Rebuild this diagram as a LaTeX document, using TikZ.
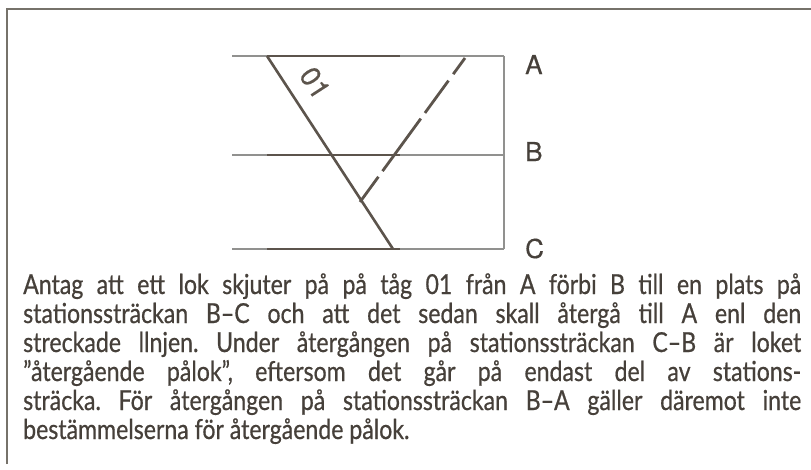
\documentclass[tikz,border=0pt]{standalone}
\usepackage{fontspec}
\setmainfont{Lato}[FakeStretch=0.84,FakeBold=0.6]
\newfontfamily\labfont{TeX Gyre Heros}[FakeBold=0.4]
\frenchspacing
\definecolor{framec}{RGB}{118,114,106}
\definecolor{darkc}{RGB}{92,84,76}
\definecolor{grayc}{RGB}{145,145,143}
\definecolor{textc}{RGB}{70,64,58}
\tikzset{
  frameline/.style={draw=framec, line width=2.6pt},
  grayline/.style={draw=grayc, line width=2.6pt},
  darkline/.style={draw=darkc, line width=2.4pt},
  diagline/.style={draw=darkc, line width=2.6pt},
  vline/.style={draw=grayc, line width=1.6pt},
  dashline/.style={draw=darkc, line width=2.8pt, dash pattern=on 20pt off 8pt on 40pt off 7pt on 65pt off 7pt on 40pt off 10pt},
  stlabel/.style={anchor=base west, inner sep=0, text=textc, font=\labfont\fontsize{26}{27}\selectfont},
  txtline/.style={anchor=base west, inner sep=0, text=textc, font=\fontsize{27.5}{29}\selectfont}
}
\begin{document}
\begin{tikzpicture}[x=1pt,y=-1pt]
\useasboundingbox (0,0) rectangle (811,469);
\fill[white] (0,0) rectangle (811,469);
% frame
\coordinate (fTL) at (7,9);
\coordinate (fTR) at (811,9);
\coordinate (fBL) at (7,464);
\draw[frameline] (fBL) -- (fTL) -- (fTR);
% station lines
\foreach \n/\y in {A/56,B/155,C/249}{
  \coordinate (\n0) at (232,\y);
  \coordinate (\n1) at (267,\y);
  \coordinate (\n2) at (400,\y);
  \coordinate (\n3) at (504,\y);
}
\foreach \n in {A,B,C}{
  \draw[grayline] (\n0) -- (\n3);
  \draw[darkline] (\n1) -- (\n2);
}
\draw[vline] (A3) -- (C3);
% train 01
\coordinate (s1) at (267,56);
\coordinate (s2) at (393,249);
\draw[diagline] (s1) -- (s2);
\node[inner sep=0, text=darkc, font=\labfont\fontsize{28}{29}\selectfont, rotate=-57] (n01) at (315,83) {01};
% dashed return
\coordinate (d1) at (465,58);
\coordinate (d2) at (360,202);
\draw[dashline] (d1) -- (d2);
% labels
\node[stlabel] (lA) at (525,74) {A};
\node[stlabel] (lB) at (525,161) {B};
\node[stlabel] (lC) at (525,258) {C};
% text
\node[txtline] (t1) at (23,294) {\makebox[778pt][s]{Antag att ett lok skjuter på på tåg 01 från A förbi B till en plats på}};
\node[txtline] (t2) at (23,323) {\makebox[778pt][s]{stationssträckan B–C och att det sedan skall återgå till A enl den}};
\node[txtline] (t3) at (23,352) {\makebox[778pt][s]{streckade llnjen. Under återgången på stationssträckan C–B är loket}};
\node[txtline] (t4) at (23,381) {\makebox[778pt][s]{"återgående pålok", eftersom det går på endast del av stations-}};
\node[txtline] (t5) at (23,410) {\makebox[778pt][s]{sträcka. För återgången på stationssträckan B–A gäller däremot inte}};
\node[txtline] (t6) at (23,439) {bestämmelserna för återgående pålok.};
\end{tikzpicture}
\end{document}
